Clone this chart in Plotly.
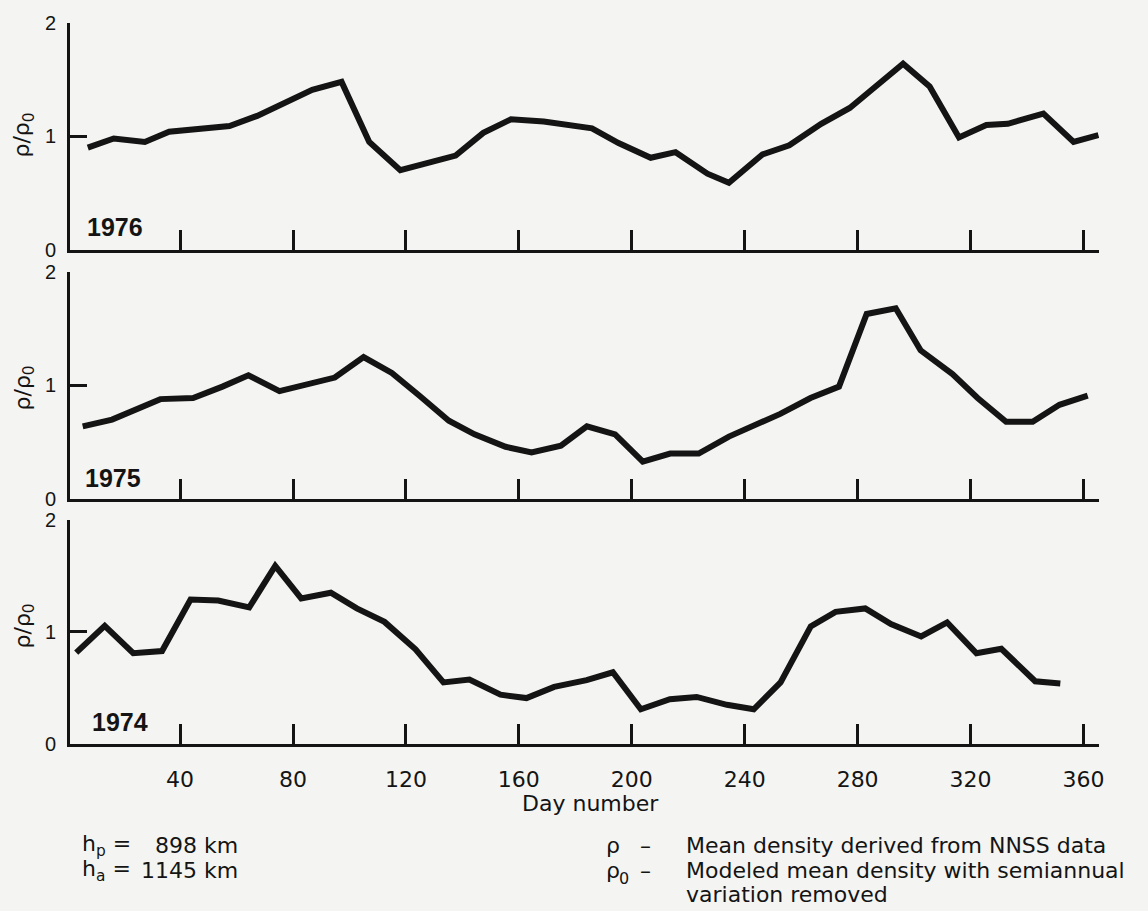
import plotly.graph_objects as go

# ---------------- data ----------------
days_1976 = [7.3, 16.5, 27.5, 36.1, 57.5, 67.3, 86.8, 97.2, 107.0, 118.0, 137.6, 147.4, 157.2,
             168.8, 185.9, 195.3, 206.7, 215.5, 226.8, 234.4, 246.3, 255.8, 267.1, 277.2, 283.5,
             296.1, 305.5, 315.9, 325.6, 333.2, 345.8, 356.5, 365.3]
rho_1976 = [0.90, 0.98, 0.95, 1.04, 1.09, 1.18, 1.41, 1.48, 0.95, 0.70, 0.83, 1.03, 1.15,
            1.13, 1.07, 0.94, 0.81, 0.86, 0.67, 0.59, 0.84, 0.92, 1.11, 1.25, 1.38,
            1.64, 1.44, 0.99, 1.10, 1.11, 1.20, 0.95, 1.01]

days_1975 = [5.5, 15.9, 33.0, 44.6, 55.0, 64.2, 75.2, 85.0, 94.8, 105.0, 115.0, 124.8, 135.2,
             144.3, 155.3, 164.5, 174.9, 184.1, 194.1, 203.9, 213.6, 223.7, 234.4, 252.6, 263.3,
             273.4, 283.2, 293.5, 302.3, 313.6, 322.5, 332.6, 342.0, 351.5, 361.5]
rho_1975 = [0.64, 0.70, 0.88, 0.89, 0.99, 1.09, 0.95, 1.01, 1.07, 1.25, 1.11, 0.91, 0.69,
            0.57, 0.46, 0.41, 0.47, 0.64, 0.57, 0.33, 0.40, 0.40, 0.55, 0.75, 0.89,
            0.99, 1.63, 1.68, 1.31, 1.10, 0.89, 0.68, 0.68, 0.83, 0.91]

days_1974 = [3.2, 13.3, 23.4, 33.6, 43.7, 53.5, 64.5, 73.7, 82.9, 93.4, 102.6, 112.4, 123.4,
             133.3, 142.5, 153.5, 162.7, 172.5, 184.0, 193.3, 203.2, 213.5, 223.0, 233.7, 243.2,
             252.7, 263.4, 272.2, 282.7, 291.8, 302.5, 311.7, 322.1, 330.9, 342.9, 351.8]
rho_1974 = [0.815, 1.055, 0.81, 0.83, 1.29, 1.28, 1.22, 1.59, 1.30, 1.35, 1.21, 1.09, 0.845,
            0.55, 0.575, 0.44, 0.41, 0.51, 0.57, 0.64, 0.31, 0.40, 0.42, 0.35, 0.31,
            0.55, 1.05, 1.18, 1.21, 1.07, 0.96, 1.085, 0.81, 0.85, 0.56, 0.54]

x_ticks = [40, 80, 120, 160, 200, 240, 280, 320, 360]
y_ticks = [0, 1, 2]
year_labels = ["1976", "1975", "1974"]

# ---------------- layout geometry (pixels) ----------------
W, H = 1148, 911
L, R = 70, 1099
T, B = 20, 744
INK = "#141414"
BG = "#f4f4f2"

def fx(px):
    return (px - L) / (R - L)

def fy(py):
    return (B - py) / (B - T)

panel_px = [(20, 247.5), (270, 498), (519, 744)]
series = [(days_1976, rho_1976), (days_1975, rho_1975), (days_1974, rho_1974)]

fig = go.Figure()

axis_names = ["", "2", "3"]
for i, ((xs, ys), (ptop, pbot)) in enumerate(zip(series, panel_px)):
    n = axis_names[i]
    fig.add_trace(go.Scatter(
        x=xs, y=ys, mode="lines",
        line=dict(color=INK, width=6),
        xaxis="x" + n, yaxis="y" + n,
        showlegend=False, hoverinfo="skip",
    ))
    bottom = (i == 2)
    fig.layout["xaxis" + n] = dict(
        domain=[0, 1], anchor="y" + n, range=[1, 365.5],
        showline=True, linewidth=3, linecolor=INK, mirror=False,
        ticks="inside", ticklen=20, tickwidth=2.5, tickcolor=INK,
        tickvals=x_ticks, showticklabels=bottom,
        tickfont=dict(family="DejaVu Sans", size=22, color=INK),
        ticklabelstandoff=14,
        showgrid=False, zeroline=False,
    )
    fig.layout["yaxis" + n] = dict(
        domain=[fy(pbot), fy(ptop)], anchor="x" + n, range=[0, 2],
        showline=True, linewidth=3, linecolor=INK,
        ticks="inside", ticklen=17, tickwidth=3, tickcolor=INK,
        tickvals=y_ticks,
        tickfont=dict(family="Liberation Sans", size=20, color=INK),
        ticklabelstandoff=7,
        showgrid=False, zeroline=False,
    )

ann = []

def add(text, px, py, xa="left", size=22, family="DejaVu Sans", angle=0):
    ann.append(dict(text=text, x=fx(px), y=fy(py), xref="paper", yref="paper",
                    xanchor=xa, yanchor="middle", showarrow=False, textangle=angle,
                    font=dict(family=family, size=size, color=INK)))

# year labels
year_pos = [(85, 225), (83, 477), (90, 722)]
for lab, (px, py) in zip(year_labels, year_pos):
    add("<b>%s</b>" % lab, px, py, size=25, family="Liberation Sans")

# y-axis titles
for py in [133, 387, 626]:
    add("ρ/ρ<sub>0</sub>", 24, py, xa="center", size=22, angle=-90)

# x-axis title
add("Day number", 590, 804, xa="center", size=22)

# bottom-left orbit info
add("h<sub>p</sub> =", 80, 846)
add("898 km", 240, 846, xa="right")
add("h<sub>a</sub> =", 80, 871)
add("1145 km", 240, 871, xa="right")

# bottom-right key
add("ρ", 604, 846)
add("ρ", 604, 871)
add("0", 617, 879, size=16)
add("–", 638, 846)
add("–", 638, 871)
add("Mean density derived from NNSS data", 684, 846)
add("Modeled mean density with semiannual", 684, 871)
add("variation removed", 684, 895)

fig.update_layout(
    width=W, height=H,
    margin=dict(l=L, r=W - R, t=T, b=H - B, pad=0),
    paper_bgcolor=BG, plot_bgcolor=BG,
    annotations=ann,
    showlegend=False,
)

fig.write_html("out.html", config={"displayModeBar": False})
